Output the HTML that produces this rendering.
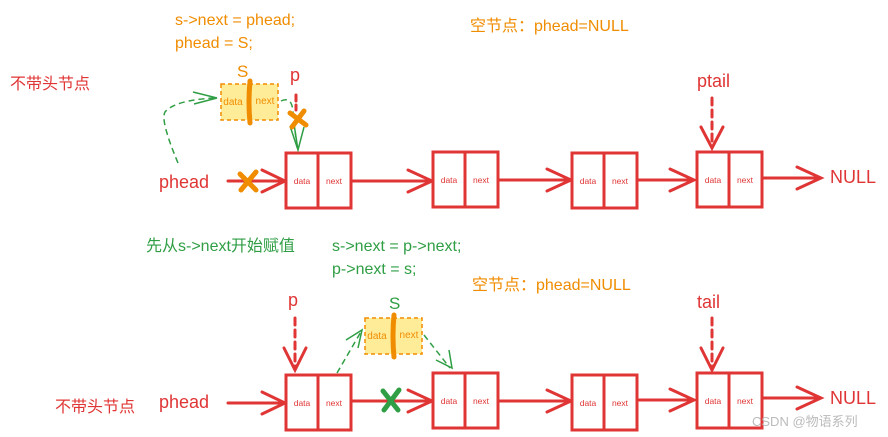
<!DOCTYPE html>
<html><head><meta charset="utf-8"><style>
body{margin:0;background:#fff}
svg{display:block;font-family:"Liberation Sans","Noto Sans CJK SC",sans-serif}
</style></head><body>
<svg width="888" height="437" viewBox="0 0 888 437" xmlns="http://www.w3.org/2000/svg">
<defs>
<g id="node">
<rect x="0" y="0" width="65" height="55" fill="#fff" stroke="#e03535" stroke-width="3"/>
<line x1="32" y1="0" x2="32" y2="55" stroke="#e03535" stroke-width="3"/>
<text x="16" y="31" font-size="8.5" fill="#e03535" text-anchor="middle">data</text>
<text x="48" y="31" font-size="8.5" fill="#e03535" text-anchor="middle">next</text>
</g>
<g id="snode">
<rect x="0" y="0" width="57" height="36" fill="#ffec99" stroke="#f08c00" stroke-width="1.5" stroke-dasharray="4 3"/>
<text x="12" y="21" font-size="10" fill="#f08c00" text-anchor="middle">data</text>
<text x="44" y="20" font-size="10" fill="#f08c00" text-anchor="middle">next</text>
<path d="M29 -3 Q27 18 29 39" stroke="#f08c00" stroke-width="5" fill="none" stroke-linecap="round"/>
</g>
</defs>
<g fill="#f08c00" font-size="16">
<text x="175" y="25">s-&gt;next = phead;</text>
<text x="175" y="48">phead = S;</text>
<text x="470" y="31">空节点：phead=NULL</text>
<text x="472" y="290">空节点：phead=NULL</text>
</g>
<g fill="#2f9e44" font-size="16">
<text x="146" y="251">先从s-&gt;next开始赋值</text>
<text x="332" y="251">s-&gt;next = p-&gt;next;</text>
<text x="332" y="274">p-&gt;next = s;</text>
</g>
<g fill="#e03535">
<text x="10" y="89" font-size="16">不带头节点</text>
<text x="55" y="412" font-size="16">不带头节点</text>
<text x="159" y="188" font-size="18">phead</text>
<text x="159" y="408" font-size="18">phead</text>
<text x="830" y="183" font-size="18">NULL</text>
<text x="830" y="404" font-size="18">NULL</text>
<text x="697" y="87" font-size="18">ptail</text>
<text x="697" y="308" font-size="18">tail</text>
<text x="290" y="81" font-size="18">p</text>
<text x="288" y="306" font-size="18">p</text>
</g>
<text x="237" y="77" font-size="17" fill="#f08c00">S</text>
<text x="389" y="309" font-size="17" fill="#2f9e44">S</text>

<g stroke="#e03535" stroke-width="3" fill="none" stroke-linecap="round">
<path d="M228 181H284M262 170L285 181L262 192"/>
<path d="M351 181H431M408 170L432 181L408 192"/>
<path d="M497 180H570M547 169L571 180L547 191"/>
<path d="M637 180H693M670 169L694 180L670 191"/>
<path d="M762 178H820M797 167L821 178L797 189"/>
<path d="M712 98V146" stroke-dasharray="7 5"/><path d="M701 127L712 148L723 127"/>
<path d="M228 403H284M262 392L285 403L262 414"/>
<path d="M351 401H431M408 390L432 401L408 412"/>
<path d="M497 401H570M547 390L571 401L547 412"/>
<path d="M637 400H693M670 389L694 400L670 411"/>
<path d="M762 398H820M797 387L821 398L797 409"/>
<path d="M712 318V368" stroke-dasharray="7 5"/><path d="M701 348L712 370L723 348"/>
<path d="M295 318V368" stroke-dasharray="7 5"/><path d="M284 348L295 370L306 348"/>
<path d="M296 95V110" stroke-dasharray="6 4"/>
</g>
<use href="#node" x="286" y="153"/>
<use href="#node" x="433" y="152"/>
<use href="#node" x="572" y="153"/>
<use href="#node" x="697" y="152"/>
<use href="#node" x="286" y="375"/>
<use href="#node" x="433" y="373"/>
<use href="#node" x="572" y="375"/>
<use href="#node" x="697" y="373"/>
<use href="#snode" x="221" y="84"/>
<use href="#snode" x="365" y="318"/>
<g stroke="#2f9e44" stroke-width="1.5" fill="none" stroke-dasharray="6 4">
<path d="M178 163Q160 120 165 112Q175 100 215 98"/>
<path d="M281 101Q292 96 293 112L297 148"/>
<path d="M337 373L362 330"/>
<path d="M424 335L450 368"/>
</g>
<g stroke="#2f9e44" stroke-width="1.5" fill="none">
<path d="M193 92L217 98L194 104"/>
<path d="M290 126L298 150L304 127M294 124L298 150"/>
<path d="M346 340L362 330L358 348"/>
<path d="M436 360L452 368L449 350"/>
</g>
<g stroke="#f08c00" stroke-width="5" stroke-linecap="round">
<path d="M240 174L256 190M256 172L241 190"/>
<path d="M290 113L306 125M304 111L292 127"/>
</g>
<g stroke="#2f9e44" stroke-width="5" stroke-linecap="round">
<path d="M383 391L398 410M399 390L384 410"/>
</g>
<text x="752" y="426" font-size="13" fill="#bbb">CSDN @物语系列</text>
</svg>
</body></html>
